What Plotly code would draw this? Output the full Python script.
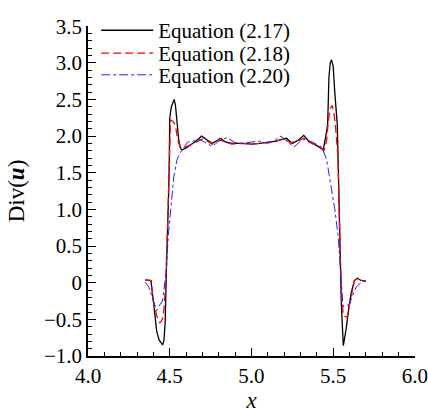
import plotly.graph_objects as go

# Equation (2.17)
x_217 = [4.35, 4.37, 4.385, 4.40, 4.41, 4.42, 4.435, 4.457, 4.465, 4.472, 4.48, 4.487, 4.493, 4.497,
         4.50, 4.51, 4.52, 4.527, 4.535, 4.545, 4.555, 4.565, 4.575, 4.60, 4.63, 4.66, 4.695, 4.73,
         4.76, 4.79, 4.81, 4.84, 4.88, 4.95, 5.00, 5.05, 5.10, 5.15, 5.19, 5.215, 5.25, 5.29, 5.32,
         5.35, 5.40, 5.439, 5.455, 5.466, 5.474, 5.482, 5.49, 5.50, 5.51, 5.525, 5.53, 5.54, 5.55,
         5.562, 5.58, 5.595, 5.61, 5.63, 5.647, 5.67, 5.70]
y_217 = [0.04, 0.04, 0.03, -0.25, -0.50, -0.66, -0.78, -0.85, -0.78, -0.55, 0.2, 0.64, 1.2, 1.6,
         2.24, 2.40, 2.48, 2.50, 2.42, 2.20, 1.95, 1.84, 1.81, 1.84, 1.88, 1.93, 2.00, 1.94,
         1.90, 1.94, 1.97, 1.92, 1.90, 1.90, 1.89, 1.90, 1.91, 1.93, 1.96, 1.97, 1.90, 1.95, 2.01,
         1.93, 1.87, 1.81, 2.00, 2.16, 2.80, 3.00, 3.04, 2.95, 2.59, 2.16, 1.68, 0.64, -0.3,
         -0.86, -0.62, -0.35, -0.14, 0.03, 0.06, 0.03, 0.02]

# Equation (2.18)
x_218 = [4.35, 4.37, 4.385, 4.40, 4.42, 4.44, 4.455, 4.465, 4.475, 4.485, 4.495, 4.505, 4.52, 4.535,
         4.545, 4.555, 4.57, 4.58, 4.62, 4.66, 4.70, 4.73, 4.76, 4.80, 4.84, 4.88, 4.95, 5.0, 5.05,
         5.10, 5.15, 5.20, 5.24, 5.29, 5.32, 5.35, 5.40, 5.445, 5.46, 5.47, 5.482, 5.494, 5.505,
         5.515, 5.53, 5.54, 5.55, 5.562, 5.575, 5.586, 5.60, 5.61, 5.63, 5.647, 5.67, 5.70]
y_218 = [0.04, 0.04, 0.03, -0.25, -0.45, -0.55, -0.5, -0.35, 0.0, 0.64, 1.6, 2.22, 2.20, 2.15,
         2.0, 1.90, 1.84, 1.84, 1.87, 1.92, 1.96, 1.93, 1.89, 1.95, 1.92, 1.89, 1.90, 1.89, 1.90,
         1.91, 1.93, 1.96, 1.91, 1.94, 1.97, 1.92, 1.87, 1.81, 1.94, 2.2, 2.38, 2.42, 2.30,
         2.11, 1.68, 0.64, -0.1, -0.45, -0.46, -0.47, -0.3, -0.19, 0.03, 0.06, 0.03, 0.02]

# Equation (2.20)
x_220 = [4.35, 4.37, 4.39, 4.41, 4.42, 4.435, 4.455, 4.47, 4.48, 4.491, 4.51, 4.525, 4.545, 4.56,
         4.58, 4.61, 4.64, 4.68, 4.71, 4.76, 4.80, 4.85, 4.90, 4.95, 5.00, 5.05, 5.10, 5.15, 5.18,
         5.22, 5.26, 5.30, 5.33, 5.37, 5.40, 5.43, 5.46, 5.49, 5.51, 5.53, 5.545, 5.56, 5.58, 5.60,
         5.62, 5.64, 5.68, 5.70]
y_220 = [0.01, -0.05, -0.18, -0.33, -0.38, -0.32, -0.25, 0.0, 0.2, 0.64, 1.1, 1.45, 1.68, 1.76,
         1.82, 1.92, 1.93, 1.96, 1.92, 1.86, 1.93, 1.98, 1.91, 1.90, 1.92, 1.93, 1.90, 1.95, 2.00,
         1.93, 1.85, 1.93, 1.96, 1.92, 1.89, 1.85, 1.68, 1.3, 1.0, 0.64, 0.1, -0.32, -0.32, -0.29,
         -0.17, -0.06, 0.02, 0.02]

x_tickvals = [4.0, 4.5, 5.0, 5.5, 6.0]
x_ticktext = ["4.0", "4.5", "5.0", "5.5", "6.0"]
y_tickvals = [-1.0, -0.5, 0, 0.5, 1.0, 1.5, 2.0, 2.5, 3.0, 3.5]
y_ticktext = ["\u22121.0", "\u22120.5", "0", "0.5", "1.0", "1.5", "2.0", "2.5", "3.0", "3.5"]

FONT = "Liberation Serif"

fig = go.Figure()
fig.add_trace(go.Scatter(x=x_217, y=y_217, mode="lines", name="Equation (2.17)", legend="legend",
                         line=dict(color="black", width=1.3)))
fig.add_trace(go.Scatter(x=x_218, y=y_218, mode="lines", name="Equation (2.18)", legend="legend2",
                         line=dict(color="#ff0000", width=1.3, dash="8px,4px")))
fig.add_trace(go.Scatter(x=x_220, y=y_220, mode="lines", name="Equation (2.20)", legend="legend3",
                         line=dict(color="#2222ff", width=1.0, dash="dashdot")))

axis_common = dict(
    showgrid=False, zeroline=False, showline=True, linecolor="black", linewidth=1.5,
    ticks="inside", ticklen=8, tickwidth=1.2, tickcolor="black",
    tickfont=dict(family=FONT, size=21, color="black"),
    minor=dict(ticks="inside", ticklen=4, tickwidth=1, tickcolor="black", dtick=0.1),
    automargin=False, ticklabeloverflow="allow",
)

fig.update_xaxes(range=[4.0, 6.0005], tickvals=x_tickvals, ticktext=x_ticktext,
                 title=dict(text="<i>x</i>", font=dict(family=FONT, size=23, color="black"), standoff=4),
                 **axis_common)
fig.update_yaxes(range=[-1.0, 3.502], tickvals=y_tickvals, ticktext=y_ticktext,
                 title=dict(text="Div(<b><i>u</i></b>)", font=dict(family=FONT, size=23, color="black"), standoff=13),
                 **axis_common)

leg_common = dict(x=0.025, xanchor="left", yanchor="middle", bgcolor="rgba(0,0,0,0)",
                  font=dict(family=FONT, size=21, color="black"), itemwidth=52)

fig.update_layout(
    width=428, height=414,
    margin=dict(l=88, r=13, t=10, b=58),
    plot_bgcolor="white", paper_bgcolor="white",
    font=dict(family=FONT, color="black"),
    legend=dict(y=0.986, **leg_common),
    legend2=dict(y=0.917, **leg_common),
    legend3=dict(y=0.851, **leg_common),
    showlegend=True,
)

fig.write_html("out.html", config={"displayModeBar": False},
               post_script="document.body.style.margin='0px';")
